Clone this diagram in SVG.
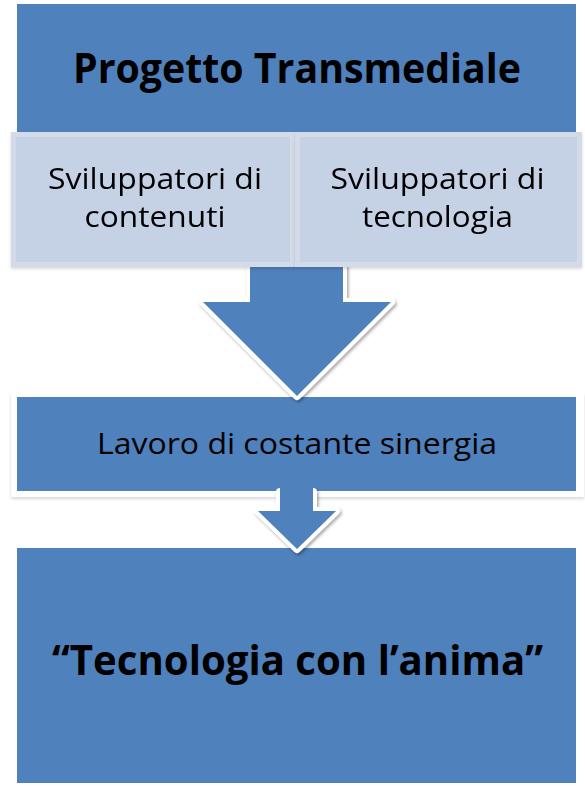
<svg xmlns="http://www.w3.org/2000/svg" width="585" height="787" viewBox="0 0 585 787">
<style>
.blue{fill:#4F81BD}
.light{fill:#C5D1E4;stroke:#D3DBE9;stroke-width:5}
.outline{fill:#FFFFFF;stroke:#FFFFFF;stroke-width:8;stroke-linejoin:round}
.t{font-family:"Open Sans","Noto Sans","Liberation Sans",sans-serif;fill:#000;text-anchor:middle}
.b{font-weight:bold;font-size:41px}
.r{font-size:29px}
</style>
<defs>
<filter id="sh" x="-20%" y="-20%" width="140%" height="140%">
<feDropShadow dx="1.5" dy="2" stdDeviation="1.5" flood-color="#000" flood-opacity="0.35"/>
</filter>
<filter id="sh2" x="-5%" y="-5%" width="110%" height="120%">
<feDropShadow dx="0" dy="2" stdDeviation="1.5" flood-color="#000" flood-opacity="0.15"/>
</filter>
</defs>

<g id="top-box">
<rect class="blue" x="17" y="4" width="559" height="134"/>
<text class="t b" x="297" y="83" textLength="448" lengthAdjust="spacingAndGlyphs">Progetto Transmediale</text>
</g>

<g id="middle-box">
<rect x="11" y="393" width="573" height="104" fill="#FFFFFF" filter="url(#sh2)"/>
<rect class="blue" x="17" y="397" width="559" height="94"/>
<text class="t r" x="297" y="454" textLength="400" lengthAdjust="spacingAndGlyphs">Lavoro di costante sinergia</text>
</g>

<g id="bottom-box">
<rect class="blue" x="17" y="548" width="559" height="235"/>
<text class="t b" x="297.5" y="675" textLength="491" lengthAdjust="spacingAndGlyphs">“Tecnologia con l’anima”</text>
</g>

<g id="connectors">
<g id="arrow-1">
<path class="outline" filter="url(#sh)" d="M250,255 L250,302 L203,302 L297,396 L391,302 L343,302 L343,255 Z"/>
<path class="blue" d="M250,250 L250,302 L203,302 L297,396 L391,302 L343,302 L343,250 Z"/>
</g>
</g>

<g id="left-box" filter="url(#sh2)">
<rect class="light" x="13.5" y="134.5" width="279" height="130"/>
<text class="t r" x="155" y="189" textLength="214" lengthAdjust="spacingAndGlyphs">Sviluppatori di</text>
<text class="t r" x="155" y="227" textLength="141" lengthAdjust="spacingAndGlyphs">contenuti</text>
</g>

<g id="right-box" filter="url(#sh2)">
<rect class="light" x="297.5" y="134.5" width="282" height="130"/>
<text class="t r" x="437.5" y="189" textLength="214" lengthAdjust="spacingAndGlyphs">Sviluppatori di</text>
<text class="t r" x="437.5" y="227" textLength="151" lengthAdjust="spacingAndGlyphs">tecnologia</text>
</g>

<g id="connectors-2">
<g id="arrow-2">
<path class="outline" filter="url(#sh)" d="M280,492 L280,511 L258,511 L297,549 L336,511 L313,511 L313,492 Z"/>
<path class="blue" d="M280,486 L280,511 L258,511 L297,549 L336,511 L313,511 L313,486 Z"/>
</g>
</g>
</svg>
